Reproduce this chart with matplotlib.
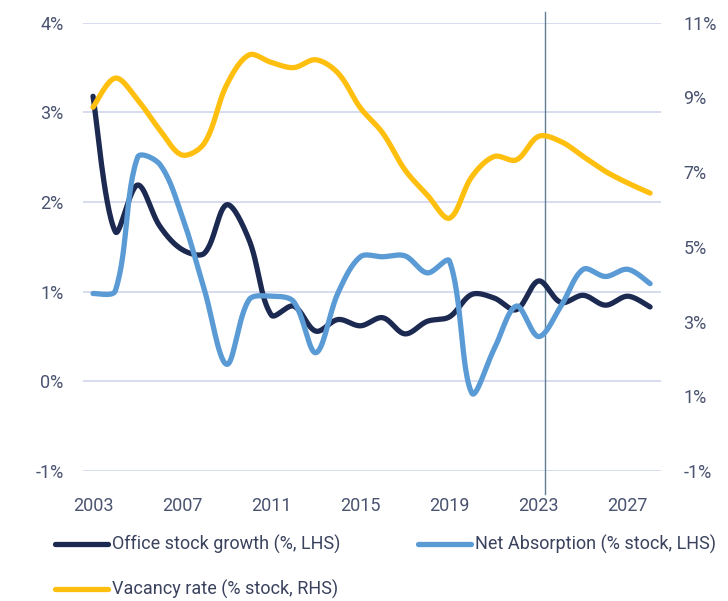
import numpy as np
import matplotlib
matplotlib.use("Agg")
import matplotlib.pyplot as plt
from matplotlib.lines import Line2D

plt.rcParams['font.family'] = ['Roboto', 'DejaVu Sans']
plt.rcParams['axes.unicode_minus'] = False

# ---------------- data ----------------
years = list(range(2003, 2029))
office_stock_growth = [3.18, 1.67, 2.19, 1.73, 1.47, 1.43, 1.97, 1.58, 0.74, 0.84,
                       0.56, 0.69, 0.62, 0.71, 0.53, 0.67, 0.72, 0.97, 0.93, 0.80,
                       1.12, 0.88, 0.96, 0.85, 0.95, 0.83]
net_absorption = [0.98, 1.01, 2.50, 2.42, 1.84, 1.02, 0.19, 0.91, 0.95, 0.89,
                  0.32, 0.99, 1.39, 1.39, 1.40, 1.21, 1.34, -0.13, 0.36, 0.84,
                  0.50, 0.84, 1.25, 1.17, 1.25, 1.09]
vacancy_rate = [8.74, 9.52, 8.94, 8.13, 7.46, 7.78, 9.34, 10.14, 9.94, 9.80,
                10.01, 9.65, 8.72, 8.05, 7.06, 6.39, 5.77, 6.88, 7.42, 7.33,
                7.96, 7.82, 7.42, 7.02, 6.71, 6.44]
x_ticks = [2003, 2007, 2011, 2015, 2019, 2023, 2027]
left_ticks = [-1, 0, 1, 2, 3, 4]
right_ticks = [-1, 1, 3, 5, 7, 9, 11]
forecast_start = 2023.3
labels = ["Office stock growth (%, LHS)", "Net Absorption (% stock, LHS)",
          "Vacancy rate (% stock, RHS)"]

# ---------------- style ----------------
C_DARK = '#1c2951'
C_LIGHT = '#5b9bd5'
C_YELLOW = '#ffbf0f'
C_GRID = '#d3d9ee'
C_TICK = '#4a5370'
C_LEG = '#3a425e'
C_VLINE = '#5f7f95'
FS = 13
FS_LEG = 13
LW = 3.8


def smooth_display(axis, x, y, n=30):
    """Smoothed line through the points (chord-length scaled cubic Bezier),
    computed in screen space and returned in data coordinates."""
    pts = axis.transData.transform(np.column_stack([x, y]).astype(float))
    m = len(pts)
    Pp = np.vstack([pts[0], pts, pts[-1]])
    d = np.linalg.norm(np.diff(pts, axis=0), axis=1)
    d = np.maximum(d, 1e-6)
    t = np.linspace(0, 1, n, endpoint=False)
    out = []
    for i in range(m - 1):
        p0, p1, p2, p3 = Pp[i], Pp[i + 1], Pp[i + 2], Pp[i + 3]
        d_prev = d[i - 1] if i > 0 else d[i]
        d_cur = d[i]
        d_next = d[i + 1] if i + 1 < m - 1 else d[i]
        t1 = p2 - p0
        t2 = p3 - p1
        c1 = p1 + t1 * (d_cur / (d_prev + d_cur)) / 3.0
        c2 = p2 - t2 * (d_cur / (d_cur + d_next)) / 3.0
        b = ((1 - t) ** 3)[:, None] * p1 + (3 * (1 - t) ** 2 * t)[:, None] * c1 \
            + (3 * (1 - t) * t ** 2)[:, None] * c2 + (t ** 3)[:, None] * p2
        out.append(b)
    out.append(pts[-1][None, :])
    out = np.vstack(out)
    data = axis.transData.inverted().transform(out)
    return data[:, 0], data[:, 1]


fig = plt.figure(figsize=(7.28, 6.01), dpi=100)
W, H = 728, 601
ax_left, ax_right_px, ax_top, ax_bot = 83, 661, 22.8, 471
ax = fig.add_axes([ax_left / W, 1 - ax_bot / H, (ax_right_px - ax_left) / W, (ax_bot - ax_top) / H])
ax2 = ax.twinx()

ax.set_ylim(-1, 4)
ax2.set_ylim(-1, 11)
ax.set_xlim(2002.55, 2028.49)
ax2.set_xlim(2002.55, 2028.49)

ax.set_yticks(left_ticks)
ax.set_yticklabels([f"{v}%" for v in left_ticks])
ax2.set_yticks(right_ticks)
ax2.set_yticklabels([f"{v}%" for v in right_ticks])
ax.set_xticks(x_ticks)
ax.set_xticklabels([str(v) for v in x_ticks])

for a in (ax, ax2):
    for s in a.spines.values():
        s.set_visible(False)
ax.tick_params(axis='y', length=0, pad=14, labelsize=FS, labelcolor=C_TICK)
ax2.tick_params(axis='y', length=0, pad=16, labelsize=FS, labelcolor=C_TICK)
ax.tick_params(axis='x', length=0, pad=19, labelsize=FS, labelcolor=C_TICK)

ax.grid(axis='y', color=C_GRID, lw=1.3, zorder=0)
ax.set_axisbelow(True)

ax.axvline(forecast_start, ymin=-0.051, ymax=1.024, color=C_VLINE, lw=1.0,
           clip_on=False, zorder=1.5)

xs, ys = smooth_display(ax, years, office_stock_growth)
ax.plot(xs, ys, color=C_DARK, lw=LW, solid_capstyle='round', zorder=3)
xs, ys = smooth_display(ax, years, net_absorption)
ax.plot(xs, ys, color=C_LIGHT, lw=LW, solid_capstyle='round', zorder=4)
xs, ys = smooth_display(ax2, years, vacancy_rate)
ax2.plot(xs, ys, color=C_YELLOW, lw=LW, solid_capstyle='round', zorder=5)

# ---------------- legend ----------------
def legend_item(x0, x1, yc, color, text):
    fig.add_artist(Line2D([x0 / W, x1 / W], [1 - yc / H, 1 - yc / H], color=color,
                          lw=LW, solid_capstyle='round', transform=fig.transFigure))
    fig.text((x1 + 4) / W, 1 - yc / H, text, fontsize=FS_LEG, color=C_LEG,
             va='center', ha='left')

legend_item(55, 108, 544, C_DARK, labels[0])
legend_item(418, 471, 544, C_LIGHT, labels[1])
legend_item(55, 108, 589, C_YELLOW, labels[2])

fig.savefig("out.png", dpi=100, facecolor='white')
